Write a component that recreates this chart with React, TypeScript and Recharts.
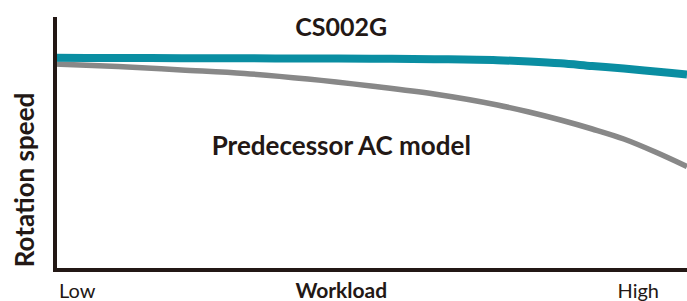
import React from "react";
import { LineChart, Line, XAxis, YAxis, Label, ReferenceDot } from "recharts";

// workload runs 0 (low) .. 100 (high); speed is in arbitrary units
const workload = [0, 10, 20, 30, 40, 50, 60, 70, 75, 80, 85, 90, 95, 100];
const cs002g = [212.2, 212, 211.8, 211.7, 211.5, 211.3, 210.8, 209.8, 208.5, 206.7, 204, 201.5, 198.5, 195.5];
const predecessor = [206, 203.5, 200, 196.5, 191, 184, 176, 165, 158, 150, 141, 131, 118, 103.5];

const xTicks = [0, 45.3, 100];
const xTickLabels = ["Low", "Workload", "High"];

const seriesLabels = [
  { text: "CS002G", x: 45.3, y: 243.3 },
  { text: "Predecessor AC model", x: 45.3, y: 124.2 },
];

const INK = "#231815";
const FONT = "Lato, 'Open Sans', sans-serif";

const data = workload.map((w, i) => ({
  workload: w,
  cs002g: cs002g[i],
  predecessor: predecessor[i],
}));

function XTick(props: any) {
  const { x, y, index } = props;
  const text = xTickLabels[index];
  if (index === 0) {
    return (
      <text x={x + 4} y={y + 28} textAnchor="start" fontFamily={FONT} fontSize={20} fill={INK}>
        {text}
      </text>
    );
  }
  if (index === xTicks.length - 1) {
    return (
      <text x={x - 28} y={y + 28} textAnchor="end" fontFamily={FONT} fontSize={20} fill={INK}>
        {text}
      </text>
    );
  }
  return (
    <text x={x} y={y + 28} textAnchor="middle" fontFamily={FONT} fontSize={21} fontWeight={700} fill={INK}>
      {text}
    </text>
  );
}

function YTitle(props: any) {
  const cx = 25;
  const cy = 180;
  return (
    <text
      x={cx}
      y={cy}
      dy="0.35em"
      transform={`rotate(-90 ${cx} ${cy})`}
      textAnchor="middle"
      fontFamily={FONT}
      fontSize={26}
      fontWeight={700}
      fill={INK}
    >
      Rotation speed
    </text>
  );
}

const seriesLabel = (text: string, size: number) => (props: any) => {
  const { viewBox } = props;
  const cx = viewBox.x + viewBox.width / 2;
  const cy = viewBox.y + viewBox.height / 2;
  return (
    <text x={cx} y={cy} dy="0.36em" textAnchor="middle" fontFamily={FONT} fontSize={size} fontWeight={700} fill={INK}>
      {text}
    </text>
  );
};

export default function App() {
  return (
    <div style={{ position: "absolute", left: 0, top: 0, background: "#fff" }}>
      <LineChart width={687} height={301} data={data} margin={{ top: 19, right: 0, bottom: 0, left: 0 }}>
        <XAxis
          dataKey="workload"
          type="number"
          domain={[0, 100]}
          ticks={xTicks}
          tick={<XTick />}
          tickLine={false}
          tickSize={0}
          tickMargin={0}
          height={31}
          axisLine={{ stroke: INK, strokeWidth: 4, strokeLinecap: "square" }}
          interval={0}
        />
        <YAxis
          type="number"
          domain={[0, 251]}
          allowDataOverflow
          tick={false}
          tickLine={false}
          width={55}
          axisLine={{ stroke: INK, strokeWidth: 4, strokeLinecap: "square" }}
        >
          <Label content={<YTitle />} />
        </YAxis>
        <Line
          type="monotone"
          dataKey="predecessor"
          stroke="#888888"
          strokeWidth={5.5}
          dot={false}
          activeDot={false}
          isAnimationActive={false}
        />
        <Line
          type="monotone"
          dataKey="cs002g"
          stroke="#0a8ea2"
          strokeWidth={8}
          dot={false}
          activeDot={false}
          isAnimationActive={false}
        />
        <ReferenceDot
          x={seriesLabels[0].x}
          y={seriesLabels[0].y}
          r={1}
          fill="none"
          stroke="none"
          label={{ content: seriesLabel(seriesLabels[0].text, 25) }}
        />
        <ReferenceDot
          x={seriesLabels[1].x}
          y={seriesLabels[1].y}
          r={1}
          fill="none"
          stroke="none"
          label={{ content: seriesLabel(seriesLabels[1].text, 26) }}
        />
      </LineChart>
    </div>
  );
}
